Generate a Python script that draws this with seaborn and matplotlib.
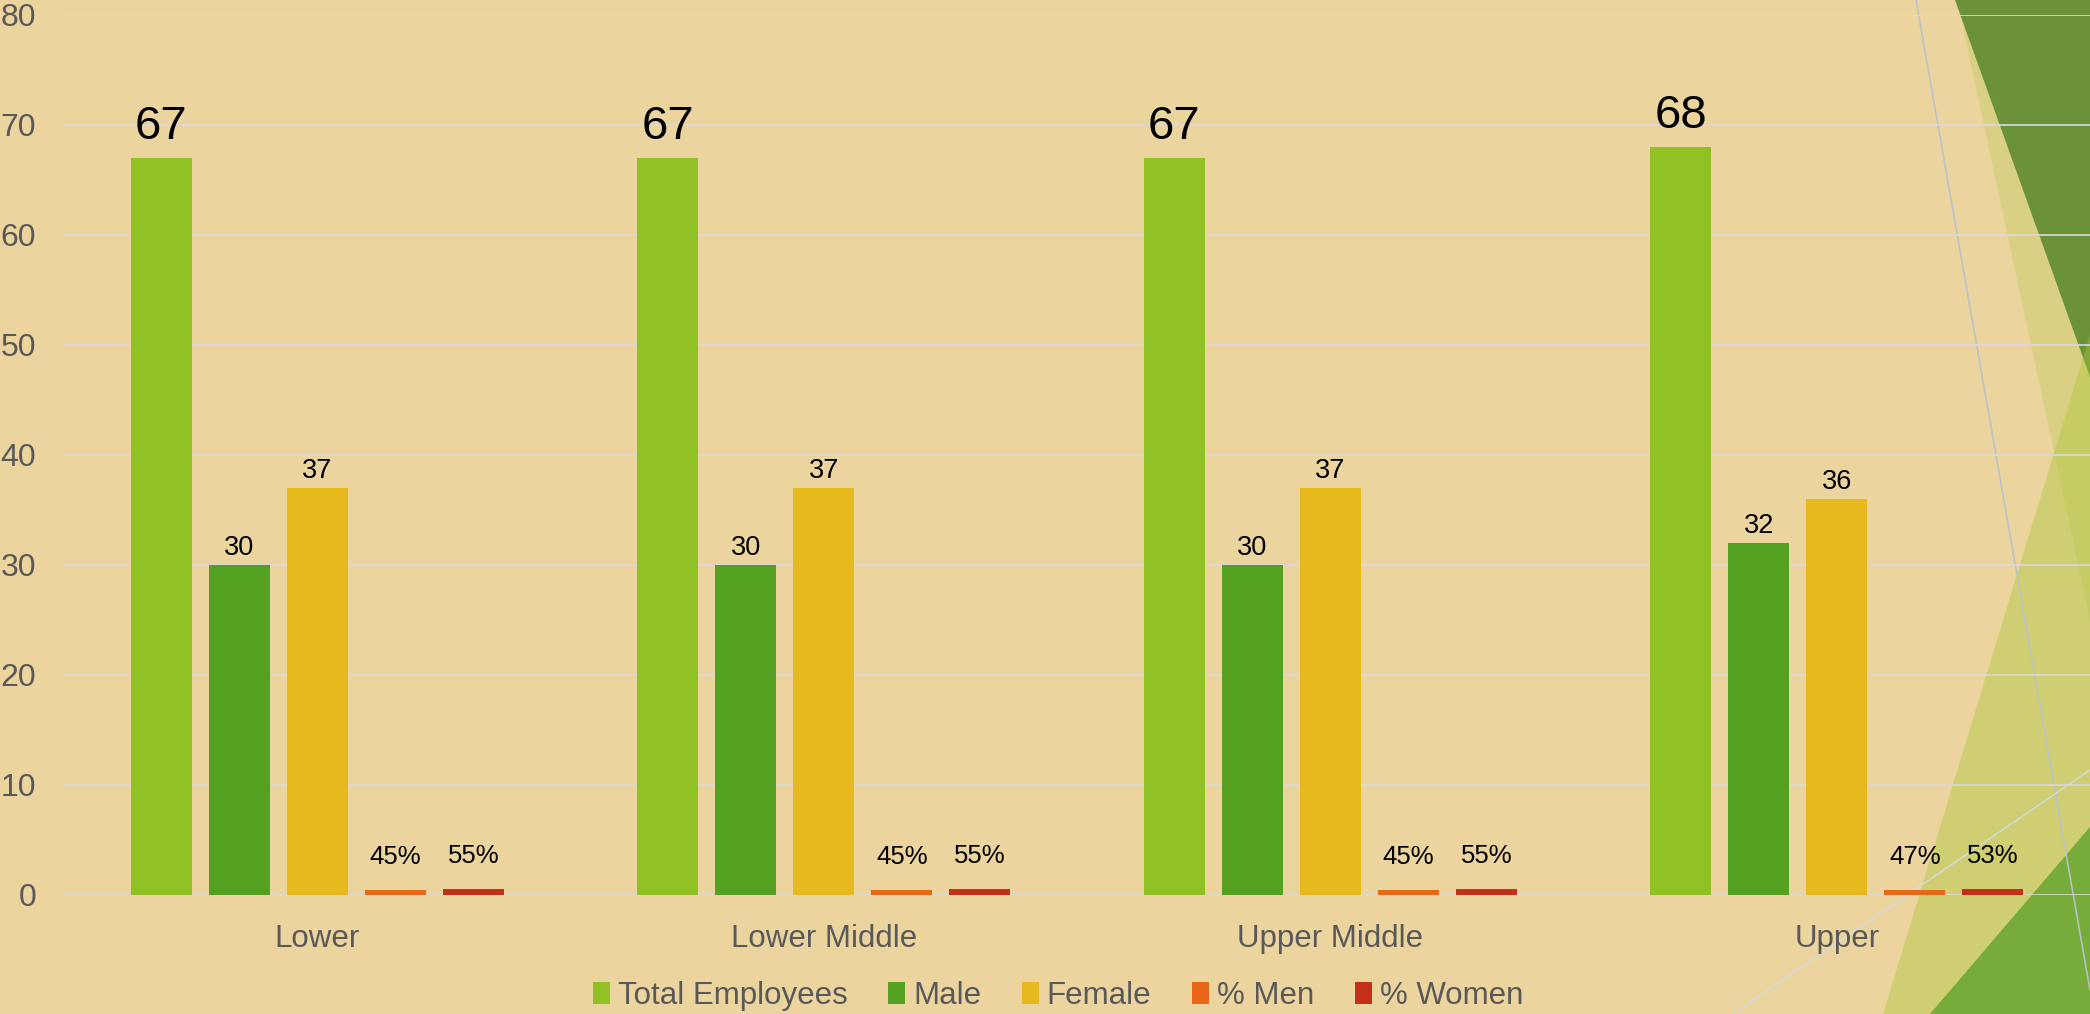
import matplotlib
matplotlib.use("Agg")
import matplotlib.pyplot as plt
from matplotlib.patches import Polygon, Patch
from matplotlib.lines import Line2D
import seaborn as sns
import pandas as pd

# ---- data ----
categories = ["Lower", "Lower Middle", "Upper Middle", "Upper"]
series = ["Total Employees", "Male", "Female", "% Men", "% Women"]
total_employees = [67, 67, 67, 68]
male = [30, 30, 30, 32]
female = [37, 37, 37, 36]
pct_men = [0.45, 0.45, 0.45, 0.47]
pct_women = [0.55, 0.55, 0.55, 0.53]
y_ticks = [0, 10, 20, 30, 40, 50, 60, 70, 80]

colors = ["#90C226", "#54A021", "#E6B91E", "#E76618", "#C42F1A"]
values = [total_employees, male, female, pct_men, pct_women]

rows = []
for s, vals in zip(series, values):
    for c, v in zip(categories, vals):
        rows.append({"category": c, "series": s, "value": v})
df = pd.DataFrame(rows)

sns.set_theme(style="white")
FONT = ["Liberation Sans Narrow", "Liberation Sans", "DejaVu Sans"]
plt.rcParams["font.family"] = FONT

W, H = 2090, 1014
fig = plt.figure(figsize=(W / 100, H / 100), dpi=100)
fig.patch.set_facecolor("#ECD49E")

def fx(x):
    return x / W

def fy(y):
    return 1 - y / H

# ---- slide decorations (background) ----
def poly(pts, color, alpha=1.0, z=-5):
    p = Polygon([(fx(a), fy(b)) for a, b in pts], closed=True, transform=fig.transFigure,
                facecolor=color, edgecolor="none", alpha=alpha, zorder=z)
    fig.add_artist(p)

poly([(1957, 0), (2090, 0), (2090, 620)], "#A8C83A", alpha=0.25, z=-6)
poly([(1955, 0), (2090, 0), (2090, 377)], "#6B9239", z=-5)
poly([(2090, 335), (2090, 1014), (1883, 1014)], "#A8C837", alpha=0.42, z=-4)
poly([(2090, 827), (2090, 1014), (1930, 1014)], "#77AC3A", z=-3)
fig.add_artist(Line2D([fx(1916), fx(2090)], [fy(0), fy(990)], transform=fig.transFigure,
                      color="#B7C3CC", lw=1.1, zorder=-2))
fig.add_artist(Line2D([fx(1733), fx(2090)], [fy(1014), fy(770)], transform=fig.transFigure,
                      color="#D0DDE2", lw=1.0, zorder=-2))

# ---- axes ----
ax = fig.add_axes([fx(64), fy(895), fx(2090) - fx(64), fy(14.7) - fy(895)])
ax.set_facecolor("none")
ax.set_zorder(1)

sns.barplot(data=df, x="category", y="value", hue="series", hue_order=series,
            order=categories, palette=colors, width=0.77, gap=0.22,
            errorbar=None, ax=ax, legend=False, saturation=1,
            linewidth=0, edgecolor="none")

ax.set_xlim(-0.5, 3.5)
ax.set_ylim(0, 80)
ax.set_yticks(y_ticks)
ax.set_xlabel("")
ax.set_ylabel("")
for sp in ax.spines.values():
    sp.set_visible(False)
ax.yaxis.grid(True, color="#D9D9D9", lw=1.2)
ax.xaxis.grid(False)
ax.set_axisbelow(True)
ax.tick_params(axis="y", length=0, pad=20, labelsize=23, labelcolor="#595959")
ax.tick_params(axis="x", length=0, pad=21, labelsize=22.5, labelcolor="#595959")

# ---- data labels ----
label_specs = [
    (lambda v: f"{v:.0f}", 34, 6),
    (lambda v: f"{v:.0f}", 19.5, 2.5),
    (lambda v: f"{v:.0f}", 19.5, 2.5),
    (lambda v: f"{v:.0%}", 18.5, 15),
    (lambda v: f"{v:.0%}", 18.5, 15),
]
for cont, (fmt, fs, pad) in zip(ax.containers, label_specs):
    labels = [fmt(b.get_height()) for b in cont]
    ax.bar_label(cont, labels=labels, padding=pad, fontsize=fs, color="black")

# ---- legend ----
handles = [Patch(facecolor=c, edgecolor="none") for c in colors]
fig.legend(handles, series, loc="center", bbox_to_anchor=(fx(1058), fy(996)),
           ncol=5, frameon=False, fontsize=22.5, labelcolor="#595959",
           handlelength=0.55, handleheight=0.7, handletextpad=0.25,
           columnspacing=1.3)

fig.savefig("out.png", dpi=100, facecolor=fig.get_facecolor())
